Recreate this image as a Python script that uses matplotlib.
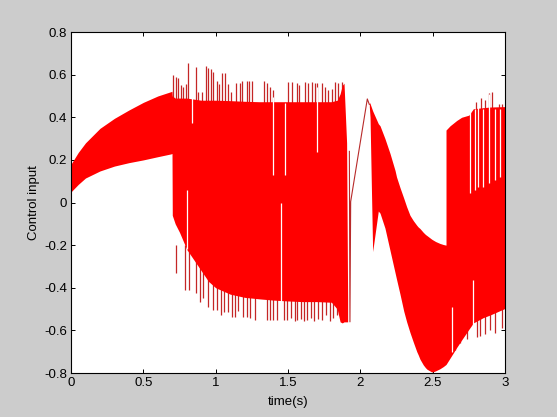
import matplotlib
matplotlib.use("Agg")
import matplotlib.pyplot as plt

# envelope of the chattering control signal
time_a = [0, 0.05, 0.1, 0.2, 0.3, 0.4, 0.5, 0.6, 0.69, 0.698, 0.70, 0.72, 0.75, 0.80, 0.85, 0.90, 0.95,
          1.0, 1.1, 1.2, 1.3, 1.4, 1.5, 1.6, 1.7, 1.8, 1.84, 1.86, 1.875, 1.887, 1.905, 1.912]
upper_a = [0.18, 0.235, 0.28, 0.348, 0.395, 0.434, 0.47, 0.50, 0.52, 0.522, 0.50, 0.49, 0.49, 0.49, 0.485, 0.48, 0.48,
           0.48, 0.478, 0.475, 0.473, 0.473, 0.473, 0.473, 0.473, 0.473, 0.48, 0.51, 0.55, 0.56, 0.28, -0.45]
lower_a = [0.05, 0.085, 0.115, 0.148, 0.171, 0.187, 0.20, 0.215, 0.228, 0.23, -0.06, -0.10, -0.14, -0.22, -0.27, -0.32, -0.37,
           -0.40, -0.43, -0.445, -0.452, -0.458, -0.462, -0.465, -0.465, -0.468, -0.50, -0.56, -0.565, -0.56, -0.56, -0.56]

time_b = [2.062, 2.067, 2.072, 2.085, 2.124, 2.136, 2.17, 2.205, 2.24, 2.25, 2.274, 2.30, 2.32, 2.343, 2.366, 2.39,
          2.40, 2.412, 2.435, 2.45, 2.46, 2.493, 2.50, 2.52, 2.55, 2.573, 2.592, 2.592, 2.62, 2.666, 2.70, 2.75,
          2.781, 2.85, 2.896, 3.0]
upper_b = [0.47, 0.465, 0.455, 0.43, 0.37, 0.36, 0.30, 0.23, 0.15, 0.12, 0.07, 0.02, -0.02, -0.06, -0.085, -0.107,
           -0.115, -0.122, -0.14, -0.15, -0.155, -0.172, -0.175, -0.183, -0.192, -0.197, -0.2, 0.34, 0.36, 0.385, 0.40, 0.41,
           0.44, 0.445, 0.448, 0.45]
lower_b = [0.45, 0.40, 0.22, -0.23, -0.04, -0.05, -0.12, -0.225, -0.33, -0.36, -0.43, -0.51, -0.56, -0.61, -0.655, -0.70,
           -0.715, -0.735, -0.762, -0.775, -0.782, -0.795, -0.795, -0.79, -0.78, -0.77, -0.76, -0.76, -0.73, -0.68, -0.645, -0.595,
           -0.565, -0.54, -0.528, -0.497]

# single trace between the two bands
link_t = [1.924, 1.928, 1.933, 2.048, 2.062]
link_v = [0.24, -0.56, 0.004, 0.486, 0.46]

# upward spikes above the band
up_t = [0.707, 0.726, 0.742, 0.758, 0.776, 0.795, 0.811, 0.862, 0.880, 0.903, 0.931, 0.949, 0.966, 0.984,
        1.007, 1.025, 1.044, 1.064, 1.083, 1.106, 1.140, 1.168, 1.184, 1.219, 1.232, 1.249, 1.334, 1.357,
        1.375, 1.398, 1.502, 1.525, 1.560, 1.575, 1.617, 1.640, 1.664, 1.686, 1.698, 1.733, 1.756, 1.778,
        1.802, 1.825, 1.848, 1.871, 2.799, 2.832, 2.862, 2.892, 2.912, 2.960, 2.977]
up_v = [0.598, 0.59, 0.585, 0.55, 0.54, 0.556, 0.653, 0.637, 0.52, 0.52, 0.64, 0.63, 0.625, 0.614,
        0.57, 0.555, 0.606, 0.606, 0.555, 0.52, 0.562, 0.56, 0.57, 0.57, 0.57, 0.57, 0.57, 0.56,
        0.54, 0.528, 0.567, 0.567, 0.56, 0.55, 0.567, 0.56, 0.567, 0.56, 0.56, 0.56, 0.54, 0.53,
        0.535, 0.567, 0.56, 0.565, 0.473, 0.489, 0.48, 0.512, 0.52, 0.46, 0.46]

# downward spikes below the band
down_t = [0.723, 0.788, 0.818, 0.862, 0.892, 0.915, 0.949, 0.979, 1.007, 1.037, 1.058, 1.087, 1.111, 1.134,
          1.157, 1.191, 1.214, 1.237, 1.272, 1.353, 1.375, 1.398, 1.422, 1.47, 1.491, 1.52, 1.545, 1.565,
          1.59, 1.61, 1.63, 1.66, 1.68, 1.71, 1.735, 1.76, 1.79, 1.81, 1.84, 2.62, 2.654, 2.689, 2.735,
          2.804, 2.827, 2.862, 2.896, 2.931, 2.977]
down_v = [-0.332, -0.41, -0.41, -0.426, -0.465, -0.45, -0.489, -0.504, -0.504, -0.528, -0.515, -0.515, -0.539, -0.535,
          -0.51, -0.535, -0.535, -0.543, -0.551, -0.551, -0.551, -0.551, -0.551, -0.55, -0.551, -0.54, -0.555, -0.55,
          -0.545, -0.555, -0.55, -0.54, -0.555, -0.545, -0.55, -0.53, -0.555, -0.54, -0.53, -0.716, -0.69, -0.66, -0.64,
          -0.63, -0.625, -0.615, -0.60, -0.61, -0.59]

# white gaps cutting through the band
gap_t = [0.804, 0.838, 1.398, 1.449, 1.479, 1.697, 2.758, 2.793, 2.816, 2.850, 2.892, 2.931, 2.966, 2.631, 2.776]
gap_top = [0.06, 0.51, 0.497, -0.004, 0.465, 0.543, 0.44, 0.44, 0.47, 0.44, 0.51, 0.44, 0.44, -0.489, -0.364]
gap_bottom = [-0.22, 0.372, 0.129, -0.47, 0.129, 0.238, 0.043, 0.06, 0.074, 0.074, 0.09, 0.106, 0.12, -0.70, -0.58]

x_ticks = [0, 0.5, 1, 1.5, 2, 2.5, 3]
y_ticks = [-0.8, -0.6, -0.4, -0.2, 0, 0.2, 0.4, 0.6, 0.8]

plt.rcParams['font.family'] = ['Liberation Sans', 'DejaVu Sans']

fig = plt.figure(figsize=(5.57, 4.17), dpi=100, facecolor='#cccccc')
ax = fig.add_axes([0.1275, 0.1055, 0.7792, 0.8177])
ax.set_facecolor('white')

spike_color = '#c42626'
ax.vlines(up_t, 0.3, up_v, color=spike_color, lw=0.9, zorder=1)
ax.vlines(down_t, -0.2, down_v, color=spike_color, lw=0.9, zorder=1)
ax.fill_between(time_a, lower_a, upper_a, color='#ff0000', lw=0, zorder=2)
ax.fill_between(time_b, lower_b, upper_b, color='#ff0000', lw=0, zorder=2)
ax.plot(link_t, link_v, color='#b82a2a', lw=0.8, zorder=2)
ax.vlines(gap_t, gap_bottom, gap_top, color='white', lw=0.9, zorder=3)

ax.set_xlim(0, 3)
ax.set_ylim(-0.8, 0.8)
ax.set_xticks(x_ticks)
ax.set_xticklabels(['%g' % v for v in x_ticks])
ax.set_yticks(y_ticks)
ax.set_yticklabels(['%g' % v for v in y_ticks])
ax.tick_params(direction='in', length=3.2, width=0.7, top=True, right=True, labelsize=9.5, pad=3)
for s in ax.spines.values():
    s.set_linewidth(0.8)
ax.set_xlabel('time(s)', fontsize=9.5, labelpad=5)
ax.set_ylabel('Control input', fontsize=9.5, labelpad=3)

fig.savefig('out.png', dpi=100, facecolor=fig.get_facecolor())
